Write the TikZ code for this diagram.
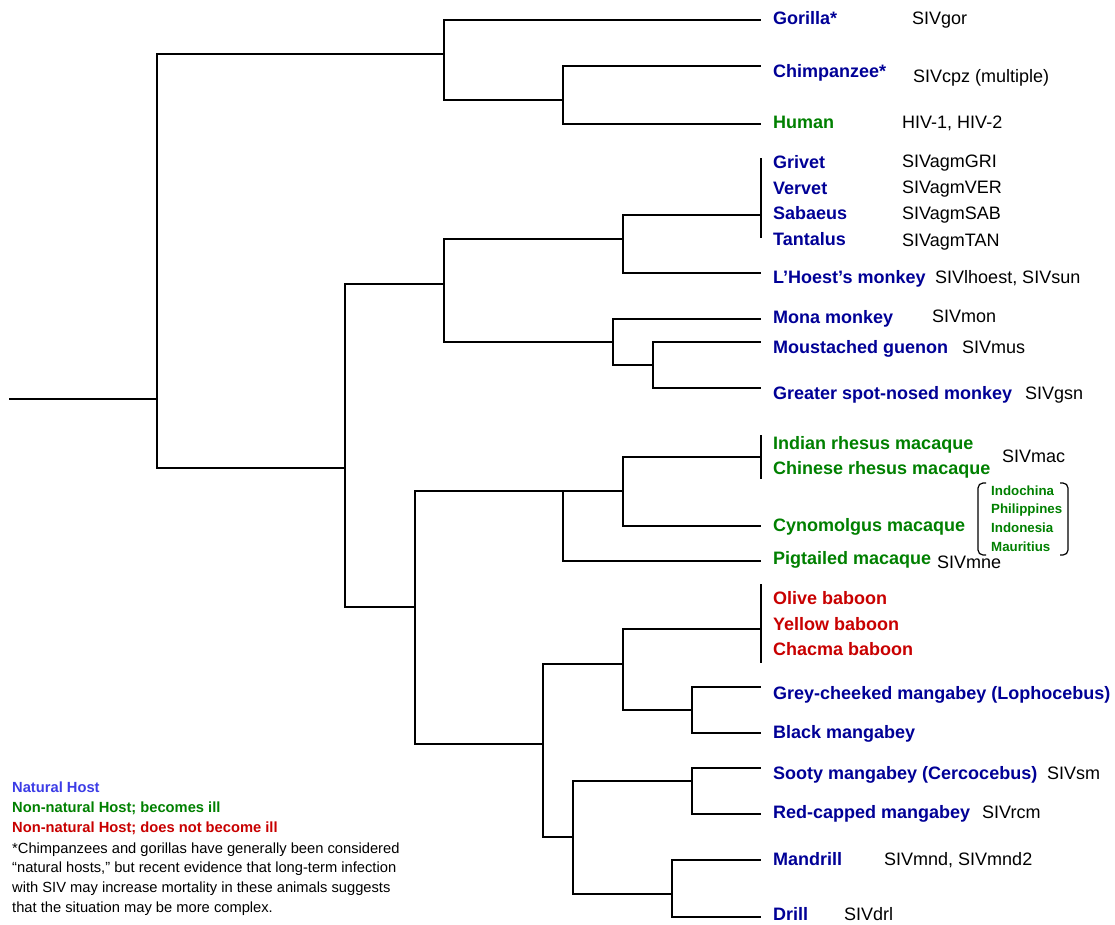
\documentclass[tikz,border=0pt]{standalone}
\usepackage{fontspec}
\setmainfont{Liberation Sans}
\definecolor{navy}{RGB}{0,0,150}
\definecolor{hgreen}{RGB}{0,128,0}
\definecolor{hred}{RGB}{200,0,0}
\definecolor{lblue}{RGB}{60,60,230}
\begin{document}
\begin{tikzpicture}[x=1pt,y=-1pt,
  tree/.style={line width=1.7pt},
  spname/.style={anchor=base west, inner sep=0pt, font=\fontsize{18}{20}\selectfont\bfseries},
  siv/.style={anchor=base west, inner sep=0pt, font=\fontsize{18}{20}\selectfont},
  small/.style={anchor=base west, inner sep=0pt, text=hgreen, font=\fontsize{13.3}{15}\selectfont\bfseries},
  legb/.style={anchor=base west, inner sep=0pt, font=\fontsize{14.7}{17}\selectfont\bfseries},
  legn/.style={anchor=base west, inner sep=0pt, font=\fontsize{14.7}{17}\selectfont}]
\useasboundingbox (0,0) rectangle (1115,924);
% internal nodes
\coordinate (R0) at (9,399);
\coordinate (n1) at (157,399);
\coordinate (n2) at (444,54);
\coordinate (n3) at (563,100);
\coordinate (n5) at (345,468);
\coordinate (n6) at (444,284);
\coordinate (n7) at (623,239);
\coordinate (n8) at (613,342);
\coordinate (n9) at (653,365);
\coordinate (n10) at (415,607);
\coordinate (n11) at (563,491);
\coordinate (n12) at (623,491);
\coordinate (n13) at (543,744);
\coordinate (n14) at (623,664);
\coordinate (n15) at (692,710);
\coordinate (n16) at (573,837);
\coordinate (n17) at (692,781);
\coordinate (n18) at (672,894);
% tips
\coordinate (tGor) at (761,20);
\coordinate (tChi) at (761,66);
\coordinate (tHum) at (761,124);
\coordinate (tAgm) at (761,215);
\coordinate (tAgmA) at (761,158);
\coordinate (tAgmB) at (761,238);
\coordinate (tLho) at (761,273);
\coordinate (tMon) at (761,319);
\coordinate (tMou) at (761,342);
\coordinate (tGre) at (761,388);
\coordinate (tRhe) at (761,457);
\coordinate (tRheA) at (761,435);
\coordinate (tRheB) at (761,479);
\coordinate (tCyn) at (761,526);
\coordinate (tPig) at (761,561);
\coordinate (tBab) at (761,629);
\coordinate (tBabA) at (761,584);
\coordinate (tBabB) at (761,663);
\coordinate (tGrc) at (761,687);
\coordinate (tBla) at (761,733);
\coordinate (tSoo) at (761,768);
\coordinate (tRed) at (761,814);
\coordinate (tMan) at (761,860);
\coordinate (tDri) at (761,917);
% branches
\draw[tree] (R0) -- (n1);
\draw[tree] (n1) |- (n2);
\draw[tree] (n1) |- (n5);
\draw[tree] (n2) |- (tGor);
\draw[tree] (n2) |- (n3);
\draw[tree] (n3) |- (tChi);
\draw[tree] (n3) |- (tHum);
\draw[tree] (n5) |- (n6);
\draw[tree] (n5) |- (n10);
\draw[tree] (n6) |- (n7);
\draw[tree] (n6) |- (n8);
\draw[tree] (n7) |- (tAgm);
\draw[tree] (n7) |- (tLho);
\draw[tree] (tAgmA) -- (tAgmB);
\draw[tree] (n8) |- (tMon);
\draw[tree] (n8) |- (n9);
\draw[tree] (n9) |- (tMou);
\draw[tree] (n9) |- (tGre);
\draw[tree] (n10) |- (n11);
\draw[tree] (n10) |- (n13);
\draw[tree] (n11) -- (n12);
\draw[tree] (n11) |- (tPig);
\draw[tree] (n12) |- (tRhe);
\draw[tree] (n12) |- (tCyn);
\draw[tree] (tRheA) -- (tRheB);
\draw[tree] (n13) |- (n14);
\draw[tree] (n13) |- (n16);
\draw[tree] (n14) |- (tBab);
\draw[tree] (n14) |- (n15);
\draw[tree] (tBabA) -- (tBabB);
\draw[tree] (n15) |- (tGrc);
\draw[tree] (n15) |- (tBla);
\draw[tree] (n16) |- (n17);
\draw[tree] (n16) |- (n18);
\draw[tree] (n17) |- (tSoo);
\draw[tree] (n17) |- (tRed);
\draw[tree] (n18) |- (tMan);
\draw[tree] (n18) |- (tDri);
% species labels
\node[spname, text=navy] (lGor) at (773,24) {Gorilla*};
\node[siv] (vGor) at (912,24) {SIVgor};
\node[spname, text=navy] (lChi) at (773,77) {Chimpanzee*};
\node[siv] (vChi) at (913,82) {SIVcpz (multiple)};
\node[spname, text=hgreen] (lHum) at (773,128) {Human};
\node[siv] (vHum) at (902,128) {HIV-1, HIV-2};
\node[spname, text=navy] (lGri) at (773,168) {Grivet};
\node[spname, text=navy] (lVer) at (773,194) {Vervet};
\node[spname, text=navy] (lSab) at (773,219) {Sabaeus};
\node[spname, text=navy] (lTan) at (773,245) {Tantalus};
\node[siv] (vGri) at (902,167) {SIVagmGRI};
\node[siv] (vVer) at (902,193) {SIVagmVER};
\node[siv] (vSab) at (902,219) {SIVagmSAB};
\node[siv] (vTan) at (902,246) {SIVagmTAN};
\node[spname, text=navy] (lLho) at (773,283) {L’Hoest’s monkey};
\node[siv] (vLho) at (935,283) {SIVlhoest, SIVsun};
\node[spname, text=navy] (lMon) at (773,323) {Mona monkey};
\node[siv] (vMon) at (932,322) {SIVmon};
\node[spname, text=navy] (lMou) at (773,353) {Moustached guenon};
\node[siv] (vMou) at (962,353) {SIVmus};
\node[spname, text=navy] (lGre) at (773,399) {Greater spot-nosed monkey};
\node[siv] (vGre) at (1025,399) {SIVgsn};
\node[spname, text=hgreen] (lInd) at (773,449) {Indian rhesus macaque};
\node[spname, text=hgreen] (lChn) at (773,474) {Chinese rhesus macaque};
\node[siv] (vMac) at (1002,462) {SIVmac};
\node[spname, text=hgreen] (lCyn) at (773,531) {Cynomolgus macaque};
\node[small] (iInd) at (991,495) {Indochina};
\node[small] (iPhi) at (991,513) {Philippines};
\node[small] (iIdn) at (991,532) {Indonesia};
\node[small] (iMau) at (991,551) {Mauritius};
\draw[line width=1.2pt, rounded corners=5pt] (986,483) -- (978,483) -- (978,555) -- (986,555);
\draw[line width=1.2pt, rounded corners=5pt] (1060,483) -- (1068,483) -- (1068,555) -- (1060,555);
\node[spname, text=hgreen] (lPig) at (773,564) {Pigtailed macaque};
\node[siv] (vPig) at (937,568) {SIVmne};
\node[spname, text=hred] (lOli) at (773,604) {Olive baboon};
\node[spname, text=hred] (lYel) at (773,630) {Yellow baboon};
\node[spname, text=hred] (lCha) at (773,655) {Chacma baboon};
\node[spname, text=navy] (lGrc) at (773,699) {Grey-cheeked mangabey (Lophocebus)};
\node[spname, text=navy] (lBla) at (773,738) {Black mangabey};
\node[spname, text=navy] (lSoo) at (773,779) {Sooty mangabey (Cercocebus)};
\node[siv] (vSoo) at (1047,779) {SIVsm};
\node[spname, text=navy] (lRed) at (773,818) {Red-capped mangabey};
\node[siv] (vRed) at (982,818) {SIVrcm};
\node[spname, text=navy] (lMan) at (773,865) {Mandrill};
\node[siv] (vMan) at (884,865) {SIVmnd, SIVmnd2};
\node[spname, text=navy] (lDri) at (773,920) {Drill};
\node[siv] (vDri) at (844,920) {SIVdrl};
% legend
\node[legb, text=lblue] (leg1) at (12,792) {Natural Host};
\node[legb, text=hgreen] (leg2) at (12,812) {Non-natural Host; becomes ill};
\node[legb, text=hred] (leg3) at (12,832) {Non-natural Host; does not become ill};
\node[legn] (leg4) at (12,853) {*Chimpanzees and gorillas have generally been considered};
\node[legn] (leg5) at (12,872) {“natural hosts,” but recent evidence that long-term infection};
\node[legn] (leg6) at (12,892) {with SIV may increase mortality in these animals suggests};
\node[legn] (leg7) at (12,912) {that the situation may be more complex.};
\end{tikzpicture}
\end{document}
